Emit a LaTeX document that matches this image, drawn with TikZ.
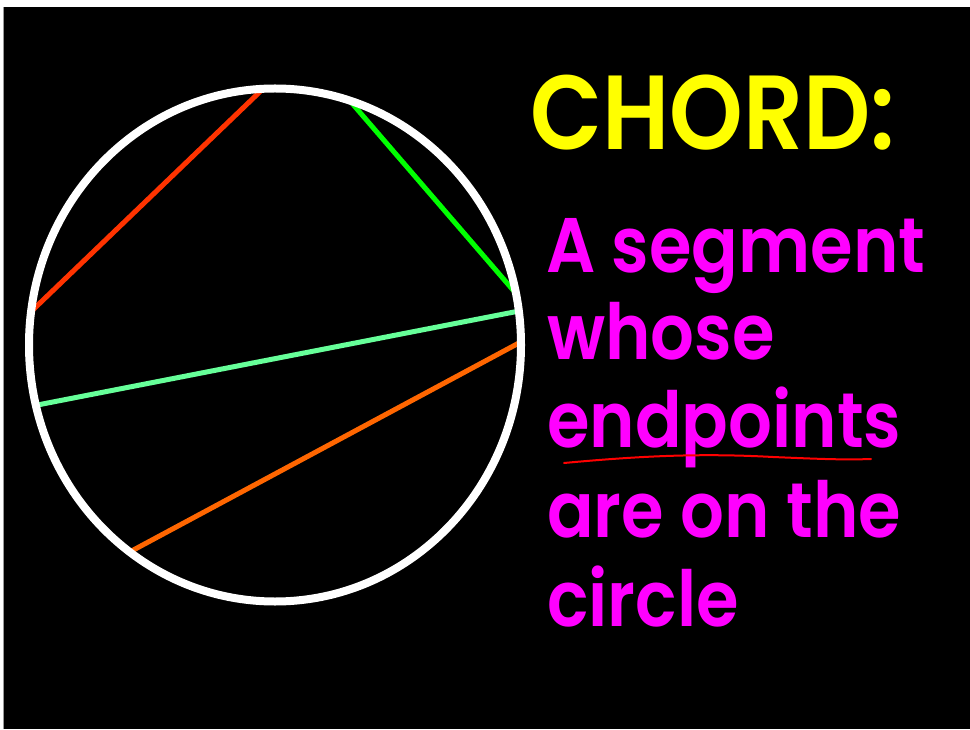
\documentclass[tikz,border=0pt]{standalone}
\usepackage{fontspec}
\setmainfont{Poppins}[BoldFont={Poppins SemiBold}, BoldFeatures={FakeStretch=0.89}]
\usetikzlibrary{calc}
\definecolor{chordred}{HTML}{FF3300}
\definecolor{chordgreen}{HTML}{00FF00}
\definecolor{chordmint}{HTML}{66FF99}
\definecolor{chordorange}{HTML}{FF6600}
\definecolor{titleyellow}{HTML}{FFFF00}
\definecolor{textmagenta}{HTML}{FF00FF}
\tikzset{
  chord/.style = {line width=3.75pt, line cap=butt},
  rim/.style   = {draw=white, line width=6pt},
  title/.style = {anchor=base west, inner sep=0pt, text=titleyellow,
                  font=\fontsize{79}{80}\selectfont\bfseries},
  defn/.style  = {anchor=base west, inner sep=0pt, text=textmagenta,
                  font=\fontsize{58}{60}\selectfont\bfseries},
}

\begin{document}
\begin{tikzpicture}[x=0.75pt, y=0.75pt]

%% ── Page and black slide ────────────────────────────────────────────────────
\useasboundingbox (0,0) rectangle (970,729);
\fill[white] (0,0) rectangle (970,729);
\fill[black!40] (3,0) rectangle (4,722);
\fill[black] (4,0) rectangle (970,722);

%% ── Circle centre and end points of the chords ──────────────────────────────
\coordinate (O) at (275,384);
\coordinate (r1) at ($(O)+(172.5:246 and 256.5)$);
\coordinate (r2) at ($(O)+(92.8:246 and 256.5)$);
\coordinate (g1) at ($(O)+(72.3:246 and 256.5)$);
\coordinate (g2) at ($(O)+(11.6:246 and 256.5)$);
\coordinate (m1) at ($(O)+(193.6:246 and 256.5)$);
\coordinate (m2) at ($(O)+(7.6:246 and 256.5)$);
\coordinate (o1) at ($(O)+(233.8:246 and 256.5)$);
\coordinate (o2) at ($(O)+(0.7:246 and 256.5)$);

%% ── Chords ──────────────────────────────────────────────────────────────────
\draw[chord, chordred]    (r1) -- (r2);
\draw[chord, chordgreen]  (g1) -- (g2);
\draw[chord, chordmint]   (m1) -- (m2);
\draw[chord, chordorange] (o1) -- (o2);

%% ── Circle ──────────────────────────────────────────────────────────────────
\draw[rim] (O) ellipse [x radius=246, y radius=256.5];

%% ── Title and definition ────────────────────────────────────────────────────
\node[title] (head) at (530,579) {CHORD:};
\node[defn] (l1) at (546,456) {A segment};
\node[defn] (l2) at (547,369) {whose};
\node[defn] (l3) at (547,282) {endpoints};
\node[defn] (l4) at (547,192) {are on the};
\node[defn] (l5) at (547,103) {circle};

%% ── Hand drawn underline ────────────────────────────────────────────────────
\draw[red, line width=1.5pt, line cap=round]
  (564,266) .. controls (640,273) and (700,276) .. (773,272)
  .. controls (820,270) and (845,269) .. (871,270);

\end{tikzpicture}
\end{document}
